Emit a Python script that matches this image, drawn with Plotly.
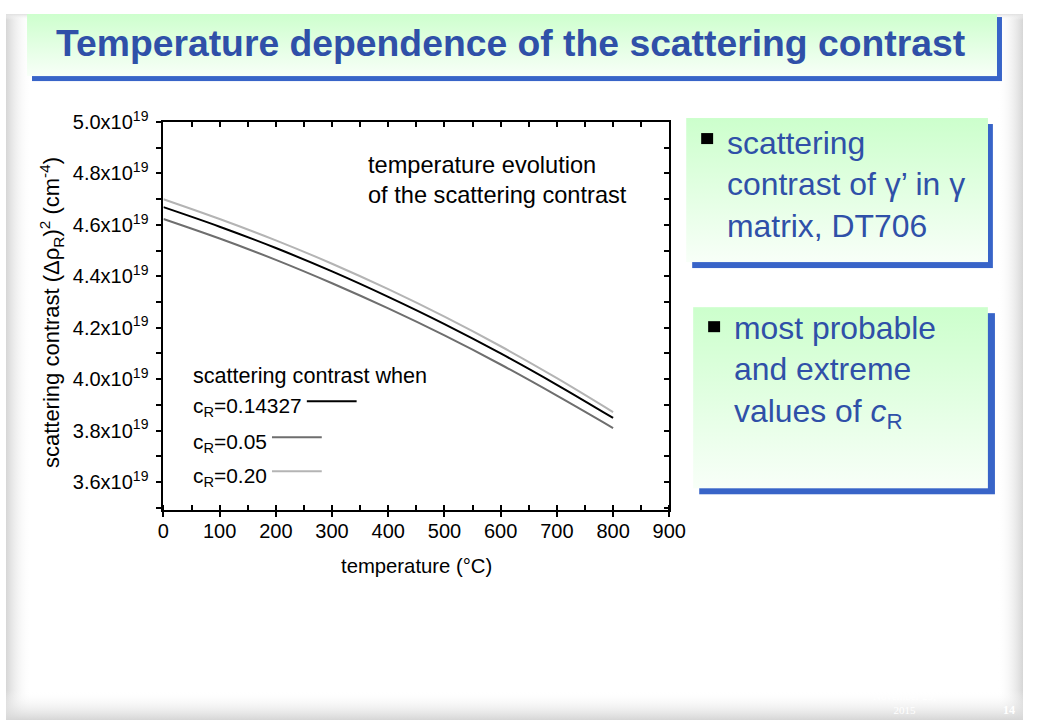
import base64
import plotly.graph_objects as go

# ---------------- data ----------------
temperature_c = [0, 100, 200, 300, 400, 500, 600, 700, 800]
contrast_cr_014327 = [4.669e19, 4.593e19, 4.510e19, 4.419e19, 4.320e19, 4.214e19, 4.100e19, 3.978e19, 3.849e19]
contrast_cr_005 = [4.623e19, 4.547e19, 4.464e19, 4.373e19, 4.275e19, 4.170e19, 4.057e19, 3.936e19, 3.810e19]
contrast_cr_020 = [4.700e19, 4.623e19, 4.540e19, 4.449e19, 4.350e19, 4.243e19, 4.128e19, 4.004e19, 3.872e19]

series_names = ["c<sub>R</sub>=0.14327", "c<sub>R</sub>=0.05", "c<sub>R</sub>=0.20"]
series_colors = ["#000000", "#6e6e6e", "#b4b4b4"]

x_tick_values = [0, 100, 200, 300, 400, 500, 600, 700, 800, 900]
y_tick_mantissas = ["3.6", "3.8", "4.0", "4.2", "4.4", "4.6", "4.8", "5.0"]
y_exponent = 19

title_text = "Temperature dependence of the scattering contrast"
box1_text = "scattering<br>contrast of \u03b3\u2019 in \u03b3<br>matrix, DT706"
box2_text = "most probable<br>and extreme<br>values of <i>c</i><sub>R</sub>"

W, H = 1040, 720
FONT = "Liberation Sans, Arial, sans-serif"
BLUE_TEXT = "#2f50a8"
SHADOW = "#3864c8"

# the captured picture is slightly scaled/offset relative to the page; layout positions
# below are given in picture pixels and mapped back to page pixels
AX, BX = 0.982, 2.9
AY, BY = 0.98, 14.0


def fx(x):
    return (x - BX) / AX


def fy(y):
    return (y - BY) / AY


def px(x):
    return fx(x) / W


def py(y):
    return 1 - fy(y) / H


def rect(x0, y0, x1, y1, fill):
    a, b = fx(x0), fy(y0)
    return f"<rect x='{a:.1f}' y='{b:.1f}' width='{fx(x1) - a:.1f}' height='{fy(y1) - b:.1f}' fill='{fill}'/>"


# ---------------- slide background as svg ----------------
svg = f"""<svg xmlns='http://www.w3.org/2000/svg' width='{W}' height='{H}' viewBox='0 0 {W} {H}'>
<defs>
<linearGradient id='gl' x1='0' y1='0' x2='1' y2='0'><stop offset='0' stop-color='#d6d6d6' stop-opacity='1'/><stop offset='1' stop-color='#ffffff' stop-opacity='0'/></linearGradient>
<linearGradient id='gr' x1='1' y1='0' x2='0' y2='0'><stop offset='0' stop-color='#d6d6d6' stop-opacity='1'/><stop offset='1' stop-color='#ffffff' stop-opacity='0'/></linearGradient>
<linearGradient id='gt' x1='0' y1='0' x2='0' y2='1'><stop offset='0' stop-color='#e0e0e0' stop-opacity='1'/><stop offset='1' stop-color='#ffffff' stop-opacity='0'/></linearGradient>
<linearGradient id='gb' x1='0' y1='1' x2='0' y2='0'><stop offset='0' stop-color='#d6d6d6' stop-opacity='1'/><stop offset='1' stop-color='#ffffff' stop-opacity='0'/></linearGradient>
<linearGradient id='green' x1='0' y1='0' x2='0' y2='1'><stop offset='0' stop-color='#ccffcc'/><stop offset='1' stop-color='#f8fff8'/></linearGradient>
</defs>
<rect width='{W}' height='{H}' fill='#ffffff'/>
<rect x='0' y='0' width='26' height='{H}' fill='url(#gl)'/>
<rect x='{W - 26}' y='0' width='26' height='{H}' fill='url(#gr)'/>
<rect x='0' y='0' width='{W}' height='6' fill='url(#gt)'/>
<rect x='0' y='{H - 30}' width='{W}' height='30' fill='url(#gb)'/>
{rect(29, 17, 1003, 81, SHADOW)}
{rect(24, 12, 998, 76, 'url(#green)')}
{rect(692, 124, 994, 268, SHADOW)}
{rect(686, 118, 989, 262, 'url(#green)')}
{rect(699, 313, 996, 494, SHADOW)}
{rect(693, 307, 989, 488, 'url(#green)')}
</svg>"""
svg_uri = "data:image/svg+xml;base64," + base64.b64encode(svg.encode("utf-8")).decode("ascii")

# ---------------- figure ----------------
fig = go.Figure()
for vals, name, color in zip([contrast_cr_014327, contrast_cr_005, contrast_cr_020], series_names, series_colors):
    fig.add_trace(go.Scatter(x=temperature_c, y=vals, mode="lines", name=name,
                             line=dict(color=color, width=2), line_shape="spline",
                             showlegend=False, hoverinfo="skip"))

x_dom = [px(161), px(669)]
y_dom = [py(510), py(122)]
x_range = [0, 900]
y_range = [3.49e19, 5.0e19]
y_tick_vals = [float(m) * 10 ** y_exponent for m in y_tick_mantissas]
y_tick_text = [f"{m}x10<sup>{y_exponent}</sup>" for m in y_tick_mantissas]

tick_font = dict(family=FONT, size=20, color="black")
tk = dict(ticklen=5, tickwidth=2, tickcolor="black")

fig.update_layout(
    width=W, height=H,
    margin=dict(l=0, r=0, t=0, b=0),
    paper_bgcolor="white",
    plot_bgcolor="rgba(0,0,0,0)",
    showlegend=False,
    images=[dict(source=svg_uri, xref="paper", yref="paper", x=0, y=1, sizex=1, sizey=1,
                 xanchor="left", yanchor="top", sizing="stretch", layer="below")],
    xaxis=dict(domain=x_dom, range=x_range, tickmode="array", tickvals=x_tick_values,
               ticks="outside", **tk,
               minor=dict(ticks="inside", dtick=50, tick0=0, **tk),
               showline=True, linecolor="black", linewidth=2, showgrid=False, zeroline=False,
               tickfont=tick_font, anchor="y", ticklabelstandoff=-3),
    xaxis2=dict(domain=x_dom, range=x_range, overlaying="x", side="top", anchor="y",
                tickmode="array", tickvals=x_tick_values, ticks="inside", **tk,
                minor=dict(ticks="inside", dtick=50, tick0=0, **tk),
                showline=True, linecolor="black", linewidth=2, showgrid=False, zeroline=False,
                showticklabels=False),
    xaxis3=dict(domain=x_dom, range=x_range, overlaying="x", side="bottom", anchor="y",
                tickmode="array", tickvals=x_tick_values, ticks="inside", **tk,
                showline=False, showgrid=False, zeroline=False, showticklabels=False),
    yaxis=dict(domain=y_dom, range=y_range, tickmode="array", tickvals=y_tick_vals, ticktext=y_tick_text,
               ticks="outside", **tk,
               minor=dict(ticks="outside", tickmode="linear", tick0=3.5e19, dtick=0.1e19, **tk),
               showline=True, linecolor="black", linewidth=2, showgrid=False, zeroline=False,
               tickfont=tick_font, anchor="x", ticklabelstandoff=4),
    yaxis2=dict(domain=y_dom, range=y_range, overlaying="y", side="right", anchor="x",
                tickmode="array", tickvals=y_tick_vals, ticks="inside", **tk,
                minor=dict(ticks="inside", tickmode="linear", tick0=3.5e19, dtick=0.1e19, **tk),
                showline=True, linecolor="black", linewidth=2, showgrid=False, zeroline=False,
                showticklabels=False),
)

# invisible traces so the overlay axes are drawn
fig.add_trace(go.Scatter(x=[None], y=[None], xaxis="x2", yaxis="y2", showlegend=False, hoverinfo="skip"))
fig.add_trace(go.Scatter(x=[None], y=[None], xaxis="x3", yaxis="y", showlegend=False, hoverinfo="skip"))

ann = []
shapes = []


def add_text(text, x, y, size, color="black", xanchor="left", yanchor="middle", angle=0, family=FONT, align="left"):
    ann.append(dict(text=text, x=px(x), y=py(y), xref="paper", yref="paper", showarrow=False,
                    xanchor=xanchor, yanchor=yanchor, textangle=angle, align=align,
                    font=dict(family=family, size=size, color=color)))


def add_box(x0, y0, x1, y1, color):
    shapes.append(dict(type="rect", xref="paper", yref="paper", x0=px(x0), x1=px(x1),
                       y0=py(y1), y1=py(y0), fillcolor=color, line=dict(width=0)))


# title
add_text(f"<b>{title_text}</b>", 510, 43, 37.3, BLUE_TEXT, xanchor="center")

# axis titles
add_text("temperature (\u00b0C)", 415, 566, 20.3, xanchor="center")
add_text("scattering contrast (\u0394\u03c1<sub>R</sub>)<sup>2</sup> (cm<sup>-4</sup>)", 48, 312, 22,
         xanchor="center", angle=-90)

# in-plot annotation
add_text("temperature evolution", 364, 165, 23.6)
add_text("of the scattering contrast", 364, 195, 23.6)

# legend block
add_text("scattering contrast when", 189, 375, 21.6)
legend_rows = [(403, 305, 355), (439, 270, 320), (473, 270, 320)]
for (ly, x0, x1), name, color in zip(legend_rows, series_names, series_colors):
    add_text(name, 189, ly + 4, 20.9)
    shapes.append(dict(type="line", xref="paper", yref="paper", x0=px(x0), x1=px(x1),
                       y0=py(ly - 2), y1=py(ly - 2), line=dict(color=color, width=2)))

# right-hand boxes
add_box(701, 133, 713, 144, "black")
add_text(box1_text, 725, 184, 31.9, BLUE_TEXT)
add_box(708, 321, 720, 332, "black")
add_text(box2_text, 732, 372, 31.9, BLUE_TEXT)

# footer
add_text("November 29,<br>2015", 905, 703, 11, "#ffffff", xanchor="center",
         family="Liberation Serif, Times New Roman, serif", align="center")
add_text("<b>14</b>", 1010, 710, 12, "#ffffff", xanchor="center", family="Liberation Serif, serif")

fig.update_layout(annotations=ann, shapes=shapes)

fig.write_html(
    "out.html",
    config={"displayModeBar": False},
    post_script="document.documentElement.style.margin='0';document.body.style.margin='0';"
                "document.body.style.padding='0';document.body.style.overflow='hidden';"
                "var d=document.getElementById('{plot_id}');d.style.position='fixed';"
                "d.style.left='0px';d.style.top='0px';",
)
